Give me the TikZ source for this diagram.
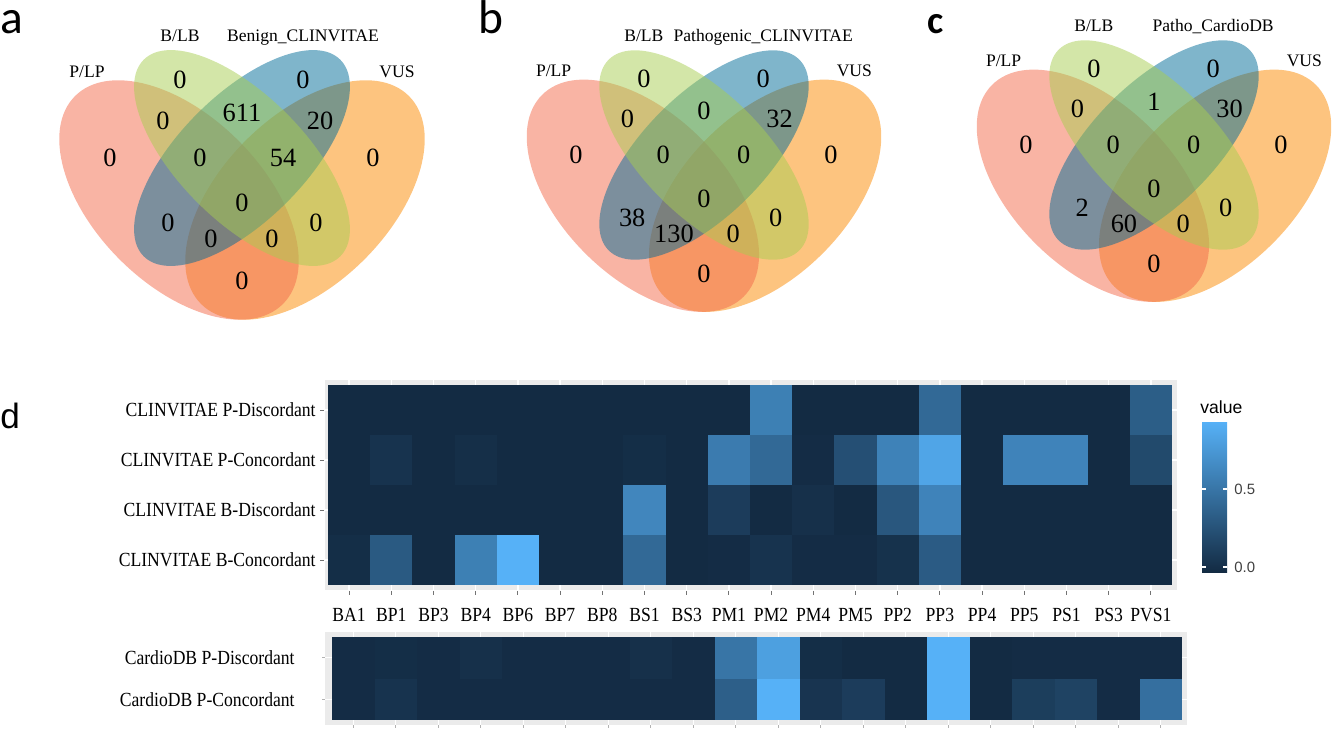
\documentclass[tikz,border=0pt]{standalone}
\usepackage{fontspec}
\setmainfont{Liberation Serif}
\newfontfamily\calibrifont{Carlito}
\newfontfamily\arialfont{Liberation Sans}
\newfontfamily\heatfont[FakeStretch=0.88]{Liberation Serif}
\definecolor{setp}{HTML}{F3694A}
\definecolor{setb}{HTML}{A7CD51}
\definecolor{setc}{HTML}{006B97}
\definecolor{setv}{HTML}{FB8900}
\definecolor{lo}{HTML}{132B43}
\definecolor{hi}{HTML}{56B1F7}
\definecolor{panelgray}{HTML}{EBEBEB}
\def\tilew{42.2}
\def\tileh{50}
\def\lowtilew{42.5}
\def\lowtileh{41.5}
\tikzset{
  venn set/.style={
    fill opacity=0.5
  },
  count/.style={
    inner sep=0pt,
    font=\fontsize{15}{15}\selectfont
  },
  set label/.style={
    anchor=base,
    inner sep=0pt,
    font=\fontsize{10}{12}\selectfont
  },
  panel letter/.style={
    anchor=base west,
    inner sep=0pt,
    font=\calibrifont\fontsize{27}{27}\selectfont
  },
  ylab/.style={
    anchor=east,
    inner sep=0pt,
    font=\heatfont\fontsize{11.4}{12}\selectfont
  },
  xlab/.style={
    inner sep=0pt,
    font=\heatfont\fontsize{11.4}{12}\selectfont
  },
  grid line/.style={
    draw=white,
    line width=0.8pt
  },
  axis tick/.style={
    draw=black!55,
    line width=0.5pt
  },
  legend text/.style={
    anchor=west,
    inner sep=0pt,
    text=black!75,
    font=\arialfont\fontsize{8.5}{10}\selectfont
  }
}
% #1 prefix, #2 centre, #3 scale, #4 third set
\newcommand{\vennsets}[4]{%
  \begin{scope}[shift={#2}, scale=#3]
    \fill[setv, venn set, rotate around={45:(63,42)}] (63,42) ellipse [x radius=147, y radius=84];
    \fill[setp, venn set, rotate around={-45:(-63,42)}] (-63,42) ellipse [x radius=147, y radius=84];
    \fill[setc, venn set, rotate around={45:(0,0)}] (0,0) ellipse [x radius=139, y radius=63];
    \fill[setb, venn set, rotate around={-45:(0,0)}] (0,0) ellipse [x radius=139, y radius=63];
    \node[set label] (#1-lp) at (-155,-81) {P/LP};
    \node[set label] (#1-lb) at (-62,-117) {B/LB};
    \node[set label] (#1-lc) at (61,-117) {#4};
    \node[set label] (#1-lv) at (155,-81) {VUS};
    \foreach \r/\x/\y in {p/-132/0, b/-62/-78, c/61/-78, v/131/0, pb/-79/-37, bc/0/-45,
                          cv/78/-37, pbc/-42/0, bcv/41/0, pbcv/0/45, pc/-74/65, bv/74/65,
                          pcv/-31/81, pbv/30/81, pv/0/123}
      \coordinate (#1-\r) at (\x,\y);
  \end{scope}}

\begin{document}
\begin{tikzpicture}[x=0.02cm, y=-0.02cm]
\useasboundingbox (0,0) rectangle (1336,734);

% venn diagrams
\node[panel letter] (lbl-a) at (0,33) {a};
\vennsets{va}{(242,158)}{1}{Benign\_CLINVITAE}
\foreach \r/\n in {p/0, b/0, c/0, v/0, pb/0, bc/611, cv/20, pbc/0, bcv/54, pbcv/0,
                   pc/0, bv/0, pcv/0, pbv/0, pv/0}
  \node[count] (va-n\r) at (va-\r) {\n};

\node[panel letter] (lbl-b) at (478,33) {b};
\vennsets{vb}{(704,155)}{0.97}{Pathogenic\_CLINVITAE}
\foreach \r/\n in {p/0, b/0, c/0, v/0, pb/0, bc/0, cv/32, pbc/0, bcv/0, pbcv/0,
                   pc/38, bv/0, pcv/130, pbv/0, pv/0}
  \node[count] (vb-n\r) at (vb-\r) {\n};

\node[panel letter, font=\calibrifont\bfseries\fontsize{22}{22}\selectfont] (lbl-c) at (927,33) {c};
\vennsets{vc}{(1154,145)}{0.97}{Patho\_CardioDB}
\foreach \r/\n in {p/0, b/0, c/0, v/0, pb/0, bc/1, cv/30, pbc/0, bcv/0, pbcv/0,
                   pc/2, bv/0, pcv/60, pbv/0, pv/0}
  \node[count] (vc-n\r) at (vc-\r) {\n};

% heatmaps
\node[panel letter, font=\arialfont\fontsize{20}{20}\selectfont] (lbl-d) at (0,428) {d};

\fill[panelgray] (325,380) rectangle (1177,590);
\foreach \c in {1,...,20}
  \draw[grid line] ({328+(\c-0.5)*\tilew},380) -- ++(0,210);
\foreach \r in {1,...,4}
  \draw[grid line] (325,{385+(\r-0.5)*\tileh}) -- (1177,{385+(\r-0.5)*\tileh});
\foreach \r/\vals in {1/{0,0,0,0,0,0,0,0,0,0,63,0,0,0,46,0,0,0,0,38},
                      2/{0,6,0,3,0,0,0,2,0,60,46,1,27,65,91,0,66,66,0,23},
                      3/{0,0,0,0,0,0,0,68,0,13,0,4,0,33,66,0,0,0,0,0},
                      4/{2,35,0,63,100,0,0,46,0,1,6,1,1,5,36,0,0,0,0,0}}
  \foreach \v [count=\c] in \vals
    \fill[hi!\v!lo] ({328+(\c-1)*\tilew},{385+(\r-1)*\tileh}) rectangle ++({\tilew+0.3},{\tileh+0.3});

\foreach \t [count=\r] in {CLINVITAE P-Discordant, CLINVITAE P-Concordant,
                           CLINVITAE B-Discordant, CLINVITAE B-Concordant} {
  \node[ylab] (ytop-\r) at (316,{385+(\r-0.5)*\tileh}) {\t};
  \draw[axis tick] (320,{385+(\r-0.5)*\tileh}) -- (324,{385+(\r-0.5)*\tileh});
}
\foreach \t [count=\c] in {BA1,BP1,BP3,BP4,BP6,BP7,BP8,BS1,BS3,PM1,
                           PM2,PM4,PM5,PP2,PP3,PP4,PP5,PS1,PS3,PVS1} {
  \draw[axis tick] ({328+(\c-0.5)*\tilew},591) -- ++(0,4);
  \node[xlab] (x-\t) at ({328+(\c-0.5)*\tilew},615) {\t};
}

\fill[panelgray] (325,632) rectangle (1187,725);
\foreach \c in {1,...,20}
  \draw[grid line] ({332+(\c-0.5)*\lowtilew},632) -- ++(0,93);
\foreach \r in {1,2}
  \draw[grid line] (325,{637+(\r-0.5)*\lowtileh}) -- (1187,{637+(\r-0.5)*\lowtileh});
\foreach \r/\vals in {1/{1,2,1,4,1,1,1,4,1,55,87,2,0,0,100,0,1,1,1,1},
                      2/{1,6,1,1,1,1,1,1,1,39,100,7,13,0,100,0,14,18,1,51}}
  \foreach \v [count=\c] in \vals
    \fill[hi!\v!lo] ({332+(\c-1)*\lowtilew},{637+(\r-1)*\lowtileh}) rectangle ++({\lowtilew+0.3},{\lowtileh+0.3});
\foreach \t [count=\r] in {CardioDB P-Discordant, CardioDB P-Concordant} {
  \node[ylab] (ylow-\r) at (295,{637+(\r-0.5)*\lowtileh}) {\t};
  \draw[axis tick, draw=black!30] (322,{637+(\r-0.5)*\lowtileh}) -- (325,{637+(\r-0.5)*\lowtileh});
}
\foreach \c in {1,...,20}
  \draw[axis tick, draw=black!30] ({332+(\c-0.5)*\lowtilew},725) -- ++(0,3);

% legend
\node[anchor=base west, inner sep=0pt, font=\arialfont\fontsize{10}{12}\selectfont] (leg-title) at (1200,413) {value};
\shade[top color=hi, bottom color=lo] (1202,422) rectangle (1227,572);
\foreach \t/\y in {0.5/489, 0.0/567} {
  \draw[white, line width=0.6pt] (1202,\y) -- ++(4,0) (1227,\y) -- ++(-4,0);
  \node[legend text] (leg-\t) at (1234,\y) {\t};
}
\end{tikzpicture}
\end{document}
